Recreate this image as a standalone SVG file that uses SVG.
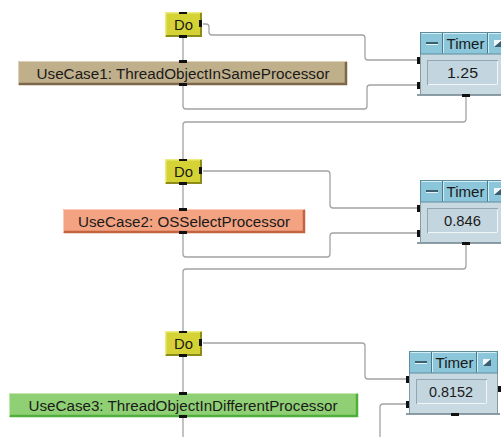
<svg xmlns="http://www.w3.org/2000/svg" width="501" height="437" viewBox="0 0 501 437">
<defs>
<style>
text{font-family:"Liberation Sans",Arial,sans-serif;fill:#1a1a1a}
.wire{fill:none;stroke:#a3a3a3;stroke-width:1.3}
.pin{fill:#111}
.do-body{fill:#d4d234}
.do-hi{fill:none;stroke:#ecec80;stroke-width:1.5}
.do-sh{fill:none;stroke:#8c8c1a;stroke-width:2}
.do-t{font-size:15px;text-anchor:middle}
.uc-t{font-size:14px;text-anchor:middle}
.t-body{fill:#c8d9e1;stroke:#8599a3;stroke-width:1}
.t-shadow{fill:#8e9ea6}
.t-bar{fill:#8cc6da;stroke:#5f8d9e;stroke-width:1}
.t-sep{stroke:#4c7888;stroke-width:1}
.t-sephi{stroke:#d4eef6;stroke-width:1}
.t-title{font-size:15px;text-anchor:middle}
.t-val{font-size:15px;text-anchor:middle}
.t-box{fill:#c3d5de;stroke:#91a6b0;stroke-width:1}
.t-boxhi{fill:none;stroke:#eef6f9;stroke-width:1}
</style>
<g id="timerShape">
  <rect class="t-shadow" x="-3" y="62" width="94" height="2"/>
  <rect class="t-body" x="0.5" y="0.5" width="88" height="62"/>
  <rect class="t-bar" x="0.5" y="0.5" width="88" height="21.5"/>
  <line class="t-sephi" x1="1.5" y1="1.5" x2="87.5" y2="1.5"/>
  <line class="t-sep" x1="22.5" y1="1" x2="22.5" y2="21.5"/>
  <line class="t-sephi" x1="23.5" y1="2" x2="23.5" y2="21"/>
  <line class="t-sep" x1="67.5" y1="1" x2="67.5" y2="21.5"/>
  <line class="t-sephi" x1="68.5" y1="2" x2="68.5" y2="21"/>
  <rect x="6" y="10" width="12" height="2" fill="#3c5f70"/>
  <rect x="6" y="12" width="12" height="1" fill="#e6f4f8"/>
  <polygon points="74,8 82,8 74,15" fill="#eef8fb"/>
  <polygon points="82,8 82,15 74,15" fill="#3c5f70"/>
  <text class="t-title" x="45.5" y="16.5" textLength="38" lengthAdjust="spacingAndGlyphs">Timer</text>
  <rect class="t-box" x="7.5" y="28.5" width="70" height="24"/>
  <polyline class="t-boxhi" points="8,52.5 77.5,52.5 77.5,29"/>
  <rect class="pin" x="42" y="62" width="8" height="3"/>
  <rect class="pin" x="-3" y="25" width="3" height="7"/>
  <rect class="pin" x="-3" y="50" width="3" height="7"/>
</g>
<g id="doShape">
  <rect class="do-body" x="0" y="0" width="37" height="25"/>
  <polyline class="do-hi" points="0.75,24 0.75,0.75 36,0.75"/>
  <polyline class="do-sh" points="1,24 36,24 36,1"/>
  <text class="do-t" x="18.5" y="17.5" textLength="19" lengthAdjust="spacingAndGlyphs">Do</text>
  <rect class="pin" x="14" y="0" width="8" height="2"/>
  <rect class="pin" x="14" y="23" width="8" height="3"/>
  <rect class="pin" x="34" y="8" width="3" height="7"/>
</g>
</defs>

<g id="connectors">
  <path class="wire" d="M183,37 V61"/>
  <path class="wire" d="M183,184 V209"/>
  <path class="wire" d="M183,356 V393"/>
  <path class="wire" d="M203,24 H206 Q209,24 209,27 V32 Q209,35 212,35 H362 Q365,35 365,38 V57 Q365,60 368,60 H417"/>
  <path class="wire" d="M183,85 V106 Q183,109 186,109 H364 Q367,109 367,106 V88 Q367,85 370,85 H417"/>
  <path class="wire" d="M466,97 V119 Q466,122 463,122 H186 Q183,122 183,125 V159"/>
  <path class="wire" d="M203,171 H327 Q330,171 330,174 V205 Q330,208 333,208 H417"/>
  <path class="wire" d="M183,233 V254 Q183,257 186,257 H327 Q330,257 330,254 V236 Q330,233 333,233 H417"/>
  <path class="wire" d="M466,245 V266 Q466,269 463,269 H186 Q183,269 183,272 V331"/>
  <path class="wire" d="M203,343 H362 Q365,343 365,346 V376 Q365,379 368,379 H406"/>
  <path class="wire" d="M380,437 V407 Q380,404 383,404 H406"/>
  <path class="wire" d="M183,417 V437"/>
</g>

<g id="do1"><use href="#doShape" x="165" y="12"/></g>
<g id="do2"><use href="#doShape" x="165" y="159"/></g>
<g id="do3"><use href="#doShape" x="165" y="331"/></g>

<g id="usecase1">
  <rect x="18" y="61" width="329" height="24" fill="#c0af8b"/>
  <polyline points="18.5,84 18.5,61.5 346,61.5" fill="none" stroke="#ddd2b8" stroke-width="1"/>
  <polyline points="19,84 346,84 346,62" fill="none" stroke="#7d6748" stroke-width="2.5"/>
  <text class="uc-t" x="183" y="79" textLength="293" lengthAdjust="spacingAndGlyphs">UseCase1: ThreadObjectInSameProcessor</text>
  <rect class="pin" x="179" y="60" width="8" height="3"/>
  <rect class="pin" x="179" y="83" width="8" height="3"/>
</g>

<g id="usecase2">
  <rect x="63" y="209" width="242" height="24" fill="#f3a282"/>
  <polyline points="63.5,232 63.5,209.5 304,209.5" fill="none" stroke="#fbcbb6" stroke-width="1"/>
  <polyline points="64,232 304,232 304,210" fill="none" stroke="#c4633f" stroke-width="2.5"/>
  <text class="uc-t" x="184" y="227" textLength="212" lengthAdjust="spacingAndGlyphs">UseCase2: OSSelectProcessor</text>
  <rect class="pin" x="179" y="208" width="8" height="3"/>
  <rect class="pin" x="179" y="231" width="8" height="3"/>
</g>

<g id="usecase3">
  <rect x="9" y="393" width="349" height="24" fill="#90d074"/>
  <polyline points="9.5,416 9.5,393.5 357,393.5" fill="none" stroke="#c2e8b0" stroke-width="1"/>
  <polyline points="10,416 357,416 357,394" fill="none" stroke="#4fae3c" stroke-width="2.5"/>
  <text class="uc-t" x="183" y="411" textLength="309" lengthAdjust="spacingAndGlyphs">UseCase3: ThreadObjectInDifferentProcessor</text>
  <rect class="pin" x="179" y="392" width="8" height="3"/>
  <rect class="pin" x="179" y="415" width="8" height="3"/>
</g>

<g id="timer1" transform="translate(420,32)">
  <use href="#timerShape"/>
  <text class="t-val" x="42.5" y="46" textLength="31" lengthAdjust="spacingAndGlyphs">1.25</text>
</g>
<g id="timer2" transform="translate(420,180)">
  <use href="#timerShape"/>
  <text class="t-val" x="42.5" y="46" textLength="37" lengthAdjust="spacingAndGlyphs">0.846</text>
</g>
<g id="timer3" transform="translate(409,351)">
  <use href="#timerShape"/>
  <text class="t-val" x="42" y="46" textLength="44" lengthAdjust="spacingAndGlyphs">0.8152</text>
  <rect class="pin" x="89" y="35" width="3" height="6"/>
</g>
</svg>
